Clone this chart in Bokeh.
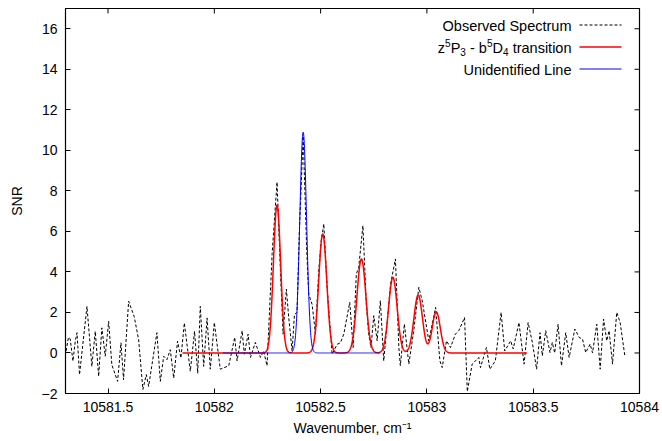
import numpy as np
from bokeh.plotting import figure
from bokeh.models import (ColumnDataSource, FixedTicker, Range1d, Label, Arrow)
from bokeh.embed import file_html
from bokeh.resources import INLINE

# ---------------- data ----------------
obs_wn = [
    10581.303, 10581.314, 10581.322, 10581.335, 10581.346, 10581.354, 10581.366,
    10581.401, 10581.424, 10581.440, 10581.456, 10581.471, 10581.487, 10581.503,
    10581.518, 10581.534, 10581.545, 10581.561, 10581.573, 10581.597, 10581.623,
    10581.644, 10581.664, 10581.680, 10581.691, 10581.730, 10581.746, 10581.762,
    10581.777, 10581.793, 10581.809, 10581.827, 10581.843, 10581.859, 10581.887,
    10581.907, 10581.922, 10581.934, 10581.950, 10581.966, 10581.981,
    10582.000, 10582.028, 10582.068, 10582.096, 10582.107, 10582.131, 10582.141,
    10582.159, 10582.170, 10582.193, 10582.217, 10582.232, 10582.248, 10582.272,
    10582.295, 10582.311, 10582.3235, 10582.339, 10582.350, 10582.366, 10582.377,
    10582.389, 10582.400, 10582.418, 10582.435, 10582.444, 10582.460, 10582.476,
    10582.491, 10582.5025, 10582.515, 10582.531, 10582.554, 10582.578, 10582.593,
    10582.609, 10582.637, 10582.653, 10582.668, 10582.679, 10582.699, 10582.715,
    10582.726, 10582.737, 10582.750, 10582.766, 10582.781, 10582.797, 10582.829,
    10582.852, 10582.868, 10582.875, 10582.894, 10582.915, 10582.938, 10582.962,
    10582.978, 10583.009, 10583.041, 10583.061, 10583.072, 10583.092, 10583.111,
    10583.134, 10583.150, 10583.177, 10583.190, 10583.213, 10583.228, 10583.244,
    10583.252, 10583.280, 10583.296, 10583.322, 10583.349,
    10583.366, 10583.394, 10583.406, 10583.433, 10583.457, 10583.476, 10583.496,
    10583.516, 10583.532, 10583.543, 10583.559, 10583.579, 10583.590, 10583.601,
    10583.617, 10583.633, 10583.653, 10583.669, 10583.696, 10583.716, 10583.732,
    10583.747, 10583.768, 10583.779, 10583.799, 10583.815, 10583.831, 10583.846,
    10583.857, 10583.873, 10583.893, 10583.909, 10583.931,
]
obs_snr = [
    0.1, 0.77, 0.7, -0.4, 0.58, 1.0, -1.07,
    2.3, -0.66, 1.07, -1.15, 1.24, -0.16, 1.56,
    -0.58, -1.07, -1.4, 0.5, -1.32, 2.55, 1.8,
    0.66, -1.8, -1.07, -1.65, 1.0, -1.4, -0.16,
    -0.33, 0.16, -1.24, 0.58, -0.25, 1.48, -0.9,
    1.07, -1.0, 2.3, -0.66, 1.73, -0.8,
    1.5, -0.8, -0.63, 0.77, -0.39, 1.1, -0.06,
    0.93, -0.22, 0.52, -0.22, 0.1, -0.63, 4.9,
    8.43, 4.06, 0.93, 3.15, 1.75, 0.1, 1.9,
    2.0, 6.0, 10.7, 5.0, 2.9, 2.4, 0.93,
    4.0, 5.5, 6.37, 3.2, -0.06, 0.43, 0.5,
    0.93, 2.5, 0.27, 3.9, 4.2, 6.28, 2.41,
    0.93, 0.27, 1.84, 0.6, 2.58, -0.39, 3.4,
    4.64, 0.27, -0.63, 1.43, -0.55, 1.1, 3.24,
    2.58, 0.6, 2.25, -0.39, -0.72, 0.6, 0.27,
    0.93, 1.1, 1.75, -1.9, -0.55, -0.39, -0.22,
    -0.72, 0.27, -0.8, -0.39, 2.0,
    0.1, 0.6, 0.2, 1.5, -0.55, 1.5, 0.52,
    -0.8, 1.0, -0.14, 1.1, 0.02, 0.52, 0.0,
    1.42, -0.63, 1.0, -0.22, 1.18, 0.77, 0.68,
    0.02, 0.44, 0.0, 1.42, -0.8, 1.67, 0.6,
    1.1, -0.55, 2.0, 1.5, -0.14,
]

# fitted transition components (centre, height, gaussian sigma)
fit_centres = [10582.295, 10582.51, 10582.692, 10582.84, 10582.959, 10583.044]
fit_heights = [7.3, 5.87, 4.64, 3.73, 2.86, 2.03]
fit_sigmas = [0.017, 0.019, 0.021, 0.020, 0.020, 0.019]
fit_span = [10581.85, 10583.47]

# unidentified line (centre, height, sigma) and span
uid_centre = 10582.418
uid_height = 10.9
uid_sigma = 0.016
uid_span = [10582.04, 10582.78]

x_min, x_max = 10581.3, 10584.0
y_min, y_max = -2, 17
x_ticks = [10581.5, 10582, 10582.5, 10583, 10583.5, 10584]
x_tick_labels = ["10581.5", "10582", "10582.5", "10583", "10583.5", "10584"]
y_ticks = [-2, 0, 2, 4, 6, 8, 10, 12, 14, 16]

# ---------------- model curves ----------------
xf = np.linspace(fit_span[0], fit_span[1], 1200)
yf = np.zeros_like(xf)
for c, h, s in zip(fit_centres, fit_heights, fit_sigmas):
    yf += h * np.exp(-0.5 * ((xf - c) / s) ** 2)

xu = np.linspace(uid_span[0], uid_span[1], 700)
yu = uid_height * np.exp(-0.5 * ((xu - uid_centre) / uid_sigma) ** 2)

FONT = "Liberation Sans"
FS = "14px"
LFS = "14.5px"
SFS = "10px"

p = figure(width=662, height=441, output_backend="svg", toolbar_location=None,
           x_range=Range1d(x_min, x_max), y_range=Range1d(y_min, y_max),
           min_border_left=65, min_border_right=23, min_border_top=8,
           min_border_bottom=48, background_fill_color="white",
           border_fill_color="white")
p.grid.visible = False
p.outline_line_color = "black"
p.outline_line_width = 1.2
p.outline_line_alpha = 1.0

obs_src = ColumnDataSource(dict(x=obs_wn, y=obs_snr))
p.line("x", "y", source=obs_src, line_color="black", line_width=1,
       line_dash="3 2")
p.line(xf, yf, line_color="#ff0000", line_width=1.5)
p.line(xu, yu, line_color="#0000ff", line_width=1)

# mirror ticks on the top and right edges (half of each dash is clipped)
p.scatter(x_ticks, [y_max] * len(x_ticks), marker="dash", size=10,
          angle=np.pi / 2, line_color="black", line_width=1)
p.scatter([x_max] * len(y_ticks), y_ticks, marker="dash", size=10,
          line_color="black", line_width=1)

for ax in (p.xaxis[0], p.yaxis[0]):
    ax.major_tick_in = 5
    ax.major_tick_out = 0
    ax.minor_tick_line_color = None
    ax.axis_line_color = "black"
    ax.major_label_text_font = FONT
    ax.major_label_text_font_size = FS
    ax.major_label_text_color = "black"
    ax.axis_label_text_font = FONT
    ax.axis_label_text_font_size = FS
    ax.axis_label_text_font_style = "normal"
    ax.axis_label_text_color = "black"
    ax.major_label_standoff = 8

p.xaxis[0].ticker = FixedTicker(ticks=x_ticks)
p.xaxis[0].major_label_overrides = {t: l for t, l in zip(x_ticks, x_tick_labels)}
p.xaxis[0].axis_label = "Wavenumber, cm\u207b\u00b9"
p.xaxis[0].axis_label_standoff = 5
p.yaxis[0].ticker = FixedTicker(ticks=y_ticks)
p.yaxis[0].axis_label = "SNR"
p.yaxis[0].axis_label_standoff = 14

def lab(x, y, text, size, align="left", baseline="middle"):
    p.add_layout(Label(x=x, y=y, x_units="screen", y_units="screen",
                       text=text, text_align=align, text_baseline=baseline,
                       text_font=FONT, text_font_size=size,
                       text_color="black"))

# legend (gnuplot style: text right-aligned, sample line on the right)
row_y = [368, 346, 324]
R = 506
styles = [dict(line_color="black", line_width=1, line_dash="3 2"),
          dict(line_color="#ff0000", line_width=1.5),
          dict(line_color="#0000ff", line_width=1)]

lab(R, row_y[0], "Observed Spectrum", LFS, "right")
lab(R, row_y[2], "Unidentified Line", LFS, "right")
# "z5P3 - b5D4 transition" with real super/subscripts
y1 = row_y[1]
pieces = [("\u00a0transition", LFS, 0, 62.9),
          ("4", SFS, -4, 5.6),
          ("D", LFS, 0, 10.5),
          ("5", SFS, 5, 5.6),
          ("\u00a0-\u00a0b", LFS, 0, 21.0),
          ("3", SFS, -4, 5.6),
          ("P", LFS, 0, 9.7),
          ("5", SFS, 5, 5.6),
          ("z", LFS, 0, 7.3)]
xr = R
for text, size, dy, w in pieces:
    lab(xr, y1 + dy, text, size, "right")
    xr -= w

for yy, st in zip(row_y, styles):
    p.add_layout(Arrow(x_start=514, y_start=yy + 0.5, x_end=556, y_end=yy + 0.5,
                       start_units="screen", end_units="screen",
                       start=None, end=None, **st))

open("out.html", "w").write(file_html(p, INLINE))
